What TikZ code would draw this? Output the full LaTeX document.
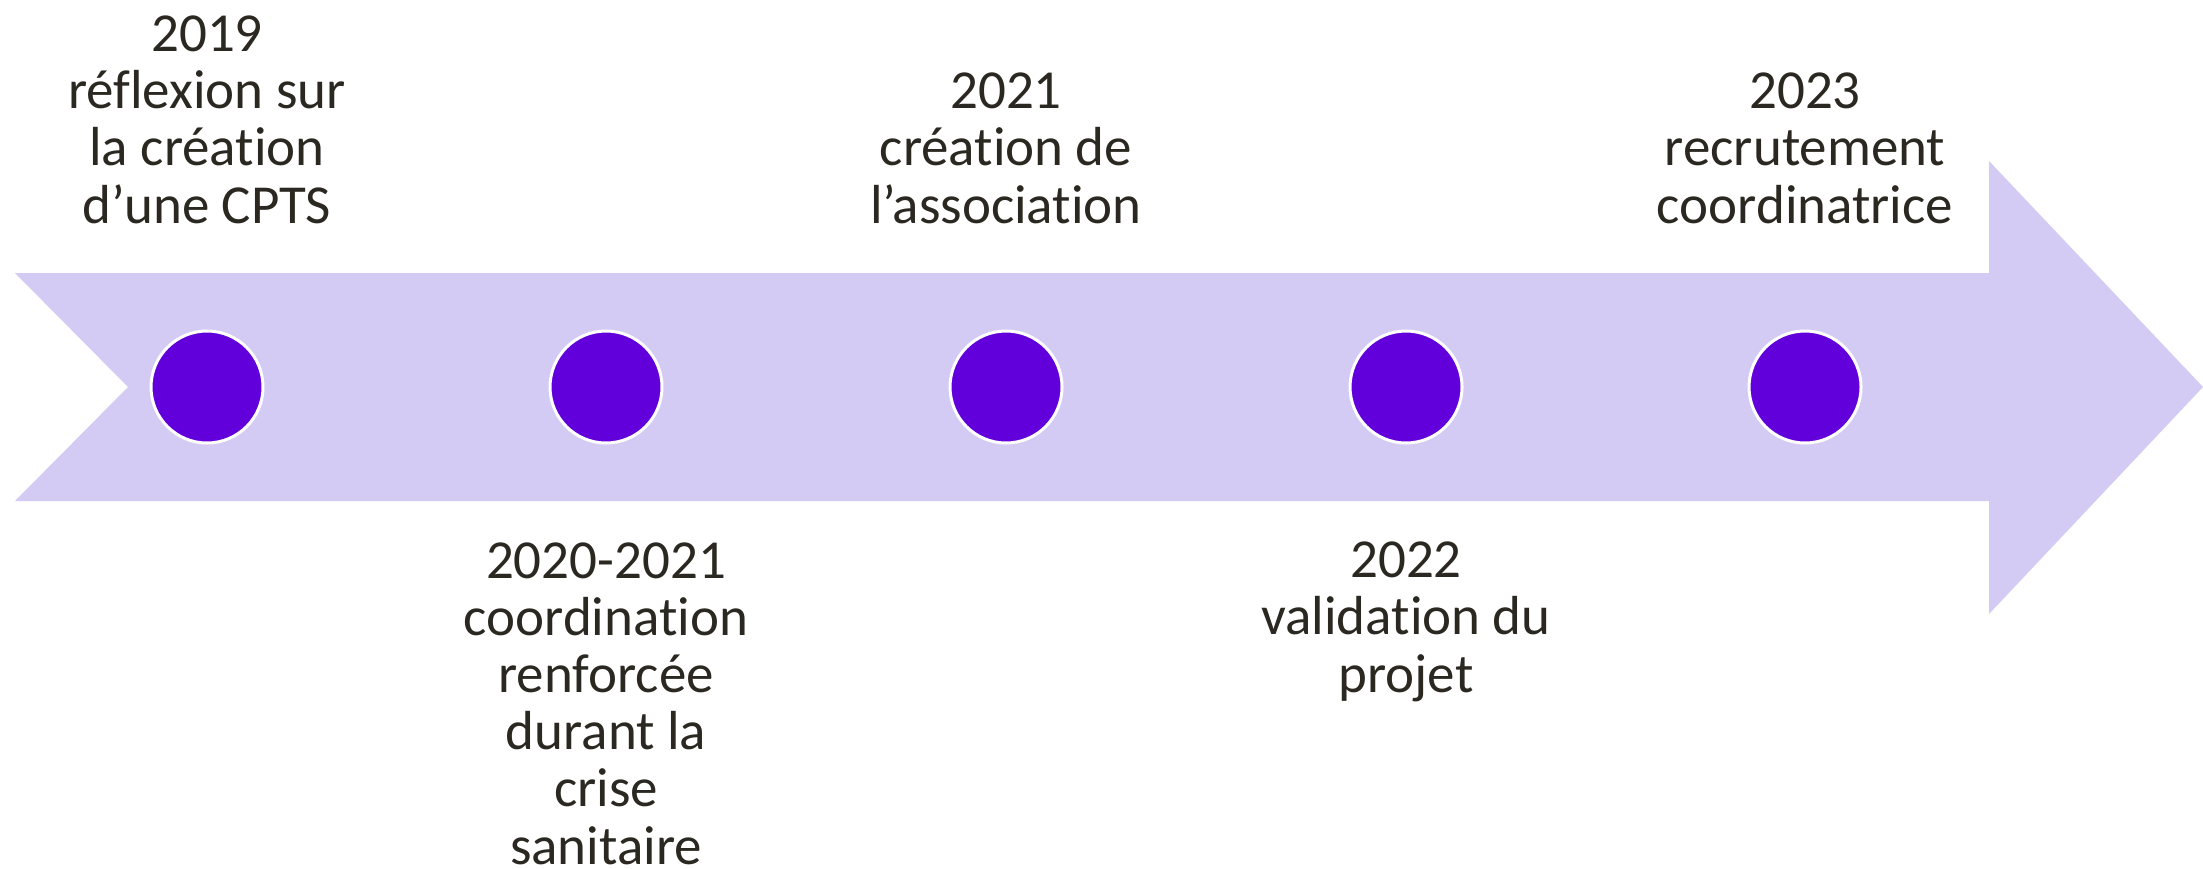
\documentclass[tikz,border=0pt]{standalone}
\usepackage{fontspec}
\setmainfont{Carlito}[Ligatures=NoCommon]
\definecolor{band}{HTML}{D3CBF3}
\definecolor{dot}{HTML}{6200DC}
\definecolor{ink}{HTML}{2A2820}
\tikzset{
  lbl/.style={align=center, inner sep=0pt, text=ink, anchor=base,
    font=\fontsize{27.5pt}{28.6pt}\selectfont},
  milestone/.style={circle, fill=dot, draw=white, line width=1.5pt,
    minimum size=56pt, inner sep=0pt}
}
\begin{document}
\begin{tikzpicture}[x=0.5pt, y=-0.5pt]
\useasboundingbox (0,0) rectangle (2203,868);
\fill[band] (15,273) -- (1989,273) -- (1989,161) -- (2203,387) -- (1989,614)
  -- (1989,501) -- (15,501) -- (128,387) -- cycle;
\node[milestone] (m1) at (207,387) {};
\node[milestone] (m2) at (606,387) {};
\node[milestone] (m3) at (1006,387) {};
\node[milestone] (m4) at (1406,387) {};
\node[milestone] (m5) at (1805,387) {};
\node[lbl] (t1) at (207,223) {2019\\réflexion sur\\la création\\d’une CPTS};
\node[lbl] (t3) at (1006,223) {2021\\création de\\l’association};
\node[lbl] (t5) at (1805,223) {2023\\recrutement\\coordinatrice};
\node[lbl] (t2) at (606,864) {2020-2021\\coordination\\renforcée\\durant la\\crise\\sanitaire};
\node[lbl] (t4) at (1406,692) {2022\\validation du\\projet};
\end{tikzpicture}
\end{document}
